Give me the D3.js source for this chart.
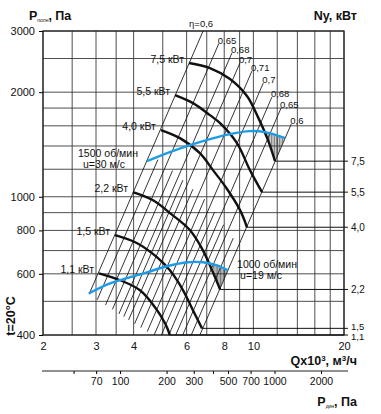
<!DOCTYPE html>
<html><head><meta charset="utf-8">
<script src="https://cdn.jsdelivr.net/npm/d3@7"></script>
<style>
body{margin:0;background:#fff}
svg{display:block}
text{font-family:"Liberation Sans",Arial,Helvetica,sans-serif;fill:#111}
</style>
</head><body>
<svg id="chart" width="381" height="414"></svg>
<script>
// ---------- data ----------
const qTicks = [2, 3, 4, 6, 8, 10, 20];
const qGrid = [2, 2.5, 3, 3.5, 4, 5, 6, 7, 8, 9, 10, 12, 14, 16, 18, 20];
const pTicks = [400, 600, 800, 1000, 2000, 3000];
const pGrid = [400, 500, 600, 700, 800, 900, 1000, 1200, 1400, 1600, 1800, 2000, 2500, 3000];
const pdynTicks = [50, 70, 100, 200, 300, 400, 500, 700, 1000, 2000];
const pdynLabels = [70, 100, 200, 300, 500, 700, 1000, 2000];

const motorLabels = ["7,5 кВт", "5,5 кВт", "4,0 кВт", "2,2 кВт", "1,5 кВт", "1,1 кВт"];
const motorPowers = ["7,5", "5,5", "4,0", "2,2", "1,5", "1,1"];
const curve75Q = [6.11, 7.17, 8.36, 9.52, 10.36, 11.18, 11.80];
const curve75P = [2426, 2346, 2182, 1949, 1695, 1456, 1266];
const curve55Q = [5.49, 6.30, 7.17, 7.75, 8.82, 9.74, 10.68];
const curve55P = [1962, 1860, 1718, 1629, 1427, 1193, 1031];
const curve40Q = [4.93, 5.70, 6.64, 7.34, 8.10, 9.03, 9.52];
const curve40P = [1556, 1475, 1335, 1193, 1065, 915, 817];
const curve22Q = [3.98, 4.64, 5.35, 6.16, 6.80, 7.29, 7.75];
const curve22P = [1031, 977, 890, 801, 701, 614, 541];
const curve15Q = [3.47, 4.11, 4.78, 5.28, 5.84, 6.30, 6.75];
const curve15P = [775, 735, 670, 614, 538, 471, 418];
const curve11Q = [3.07, 3.61, 4.20, 4.71, 5.09, 5.28];
const curve11P = [602, 575, 538, 481, 432, 400];

const blue1500Q = [4.43, 5.28, 6.16, 7.17, 8.36, 9.74, 10.93, 12.74];
const blue1500P = [1266, 1344, 1408, 1465, 1515, 1545, 1535, 1475];
const blue1000Q = [2.84, 3.34, 3.80, 4.43, 5.16, 6.06, 6.80, 7.57, 8.24];
const blue1000P = [527, 563, 583, 606, 631, 648, 648, 635, 614];
const speedLabels = [["1500 об/мин", "u=30 м/с"], ["1000 об/мин", "u=19 м/с"]];

const hatchTopQ = [10.93, 11.8, 12.74, 11.80, 11.18];
const hatchTopP = [1530, 1510, 1475, 1266, 1456];
const hatchBotQ = [7.29, 7.75, 8.24, 7.75, 7.51];
const hatchBotP = [643, 631, 614, 541, 575];

// labelled efficiency lines (P ~ Q^2), given by Q at P = 1000 Pa
const etaLabels = ["η=0,6", "0,65", "0,68", "0,7", "0,71", "0,7", "0,68", "0,65", "0,6"];
const etaQ1000 = [3.93, 4.62, 5.27, 5.79, 6.52, 7.40, 8.28, 9.21, 10.5];
const etaTopP = [3000, 2760, 2593, 2426, 2301, 2125, 1936, 1800, 1619];
const etaBottomP = [524, 488, 460, 442, 420, 400, 400, 400, 400];
// unlabelled efficiency lines of the 1000 rpm field
const eta2Q1000 = [4.26, 4.94, 5.52, 6.14, 6.94, 7.82, 8.73, 9.83];
const eta2TopP = [1279, 1189, 1116, 1051, 984, 903, 831, 760];
const eta2BottomP = [505, 474, 452, 431, 409, 400, 400, 400];

// ---------- scales ----------
const svg = d3.select("#chart");
const x = d3.scaleLog().domain([2, 20]).range([43, 344]);
const y = d3.scaleLog().domain([400, 3000]).range([335, 31]);
const xd = d3.scaleLog().domain([31.7, 2990]).range([43, 348]);
const L = 43, R = 344, T = 31, B = 335;
const gridCol = "#3a3a3a";

// grid
svg.append("g").selectAll("line").data(qGrid).join("line")
  .attr("x1", d => x(d)).attr("x2", d => x(d)).attr("y1", T).attr("y2", B)
  .attr("stroke", gridCol).attr("stroke-width", 0.9);
svg.append("g").selectAll("line").data(pGrid).join("line")
  .attr("x1", L).attr("x2", R).attr("y1", d => y(d)).attr("y2", d => y(d))
  .attr("stroke", gridCol).attr("stroke-width", 0.9);
svg.append("rect").attr("x", L).attr("y", T).attr("width", R - L).attr("height", B - T)
  .attr("fill", "none").attr("stroke", "#222").attr("stroke-width", 1.2);

// left axis
const yAxis = d3.axisLeft(y).tickValues(pTicks).tickFormat(d3.format("d")).tickSize(4).tickPadding(4);
const gy = svg.append("g").attr("transform", `translate(${L},0)`).call(yAxis);
gy.select(".domain").remove();
gy.selectAll("text").attr("font-size", 11);

// bottom axis
const xAxis = d3.axisBottom(x).tickValues(qTicks).tickFormat(d3.format("d")).tickSize(0).tickPadding(7);
const gx = svg.append("g").attr("transform", `translate(0,${B})`).call(xAxis);
gx.select(".domain").remove();
gx.selectAll("text").attr("font-size", 11);

// dynamic pressure axis
const xdAxis = d3.axisBottom(xd).tickValues(pdynTicks)
  .tickFormat(d => pdynLabels.includes(d) ? d3.format("d")(d) : "").tickSize(3).tickPadding(4);
const gd = svg.append("g").attr("transform", `translate(0,371)`).call(xdAxis);
gd.select(".domain").attr("d", `M${L - 1},0H348`).attr("stroke", "#222");
gd.selectAll("text").attr("font-size", 10.5);

// efficiency lines
const etaG = svg.append("g");
function etaLine(q, pTop, pBot) {
  const qAt = p => q * Math.sqrt(p / 1000);
  etaG.append("line")
    .attr("x1", x(qAt(pTop))).attr("y1", y(pTop))
    .attr("x2", x(qAt(pBot))).attr("y2", y(pBot))
    .attr("stroke", "#111").attr("stroke-width", 0.85);
  return [x(qAt(pTop)), y(pTop)];
}
eta2Q1000.forEach((q, i) => etaLine(q, eta2TopP[i], eta2BottomP[i]));
etaQ1000.forEach((q, i) => {
  const [tx, ty] = etaLine(q, etaTopP[i], etaBottomP[i]);
  etaG.append("text").attr("x", i === 0 ? tx + 10 : tx - 1).attr("y", i === 0 ? ty - 4 : ty)
    .attr("text-anchor", i === 0 ? "end" : "start")
    .attr("font-size", 9.5).text(etaLabels[i]);
});

// hatches
function hatch(qs, ps, id, step) {
  const pts = qs.map((q, i) => [x(q), y(ps[i])]);
  svg.append("clipPath").attr("id", id).append("polygon").attr("points", pts.map(p => p.join(",")).join(" "));
  const xs = pts.map(p => p[0]), ys = pts.map(p => p[1]);
  const g = svg.append("g").attr("clip-path", `url(#${id})`);
  for (let v = d3.min(xs); v <= d3.max(xs); v += step) {
    g.append("line").attr("x1", v).attr("x2", v).attr("y1", d3.min(ys)).attr("y2", d3.max(ys))
      .attr("stroke", "#222").attr("stroke-width", 0.6);
  }
}
hatch(hatchTopQ, hatchTopP, "h1", 1.6);
hatch(hatchBotQ, hatchBotP, "h2", 1.4);

// motor curves
const curves = [[curve75Q, curve75P], [curve55Q, curve55P], [curve40Q, curve40P],
                [curve22Q, curve22P], [curve15Q, curve15P], [curve11Q, curve11P]];
const line = d3.line().x(d => x(d[0])).y(d => y(d[1])).curve(d3.curveCatmullRom.alpha(0.5));
const powerDy = [4, 4, 4, 4, 2, 5];
const powerSize = [10, 10, 10, 10, 9.5, 9.5];
curves.forEach(([qs, ps], i) => {
  const pts = qs.map((q, j) => [q, ps[j]]);
  svg.append("path").attr("d", line(pts)).attr("fill", "none")
    .attr("stroke", "#111").attr("stroke-width", 2.4);
  const end = pts[pts.length - 1];
  svg.append("line").attr("x1", x(end[0])).attr("x2", R + 4).attr("y1", y(end[1])).attr("y2", y(end[1]))
    .attr("stroke", "#111").attr("stroke-width", 1);
  const st = pts[0];
  svg.append("text").attr("x", x(st[0]) - 5).attr("y", y(st[1]))
    .attr("text-anchor", "end").attr("font-size", 10.5).text(motorLabels[i]);
  svg.append("text").attr("x", R + 7).attr("y", y(end[1]) + powerDy[i])
    .attr("font-size", powerSize[i]).text(motorPowers[i]);
});

// blue speed curves
[[blue1500Q, blue1500P], [blue1000Q, blue1000P]].forEach(([qs, ps]) => {
  const pts = qs.map((q, j) => [q, ps[j]]);
  svg.append("path").attr("d", line(pts)).attr("fill", "none")
    .attr("stroke", "#1e9be6").attr("stroke-width", 2.4);
});
// speed labels
svg.append("text").attr("x", x(blue1500Q[0]) - 9).attr("y", y(blue1500P[0]) - 4)
  .attr("text-anchor", "end").attr("font-size", 10.5).text(speedLabels[0][0]);
svg.append("text").attr("x", x(blue1500Q[0]) - 22).attr("y", y(blue1500P[0]) + 7)
  .attr("text-anchor", "end").attr("font-size", 10.5).text(speedLabels[0][1]);
const b1e = blue1000Q.length - 1;
svg.append("text").attr("x", x(blue1000Q[b1e]) + 9).attr("y", y(blue1000P[b1e]) - 2)
  .attr("font-size", 10.5).text(speedLabels[1][0]);
svg.append("text").attr("x", x(blue1000Q[b1e]) + 12).attr("y", y(blue1000P[b1e]) + 9)
  .attr("font-size", 10.5).text(speedLabels[1][1]);

// titles
const t1 = svg.append("text").attr("x", 29).attr("y", 20).attr("font-size", 12.5).attr("font-weight", "bold");
t1.append("tspan").text("P");
t1.append("tspan").attr("font-size", 5).attr("dy", 2).attr("font-weight", "normal").text("полн");
t1.append("tspan").attr("dy", -2).text(", Па");
svg.append("text").attr("x", 357).attr("y", 20).attr("text-anchor", "end")
  .attr("font-size", 12.5).attr("font-weight", "bold").text("Ny, кВт");
const t2 = svg.append("text").attr("x", 357).attr("y", 365).attr("text-anchor", "end")
  .attr("font-size", 12.5).attr("font-weight", "bold");
t2.append("tspan").text("Qx10");
t2.append("tspan").attr("font-size", 8).attr("dy", -4).text("3");
t2.append("tspan").attr("dy", 4).text(", м");
t2.append("tspan").attr("font-size", 8).attr("dy", -4).text("3");
t2.append("tspan").attr("dy", 4).text("/ч");
const t3 = svg.append("text").attr("x", 357).attr("y", 406).attr("text-anchor", "end")
  .attr("font-size", 12.5).attr("font-weight", "bold");
t3.append("tspan").text("P");
t3.append("tspan").attr("font-size", 5).attr("dy", 2).attr("font-weight", "normal").text("дин");
t3.append("tspan").attr("dy", -2).text(", Па");
svg.append("text").attr("transform", "translate(15,316) rotate(-90)").attr("text-anchor", "middle")
  .attr("font-size", 12.5).attr("font-weight", "bold").text("t=20°C");
</script>
</body></html>
